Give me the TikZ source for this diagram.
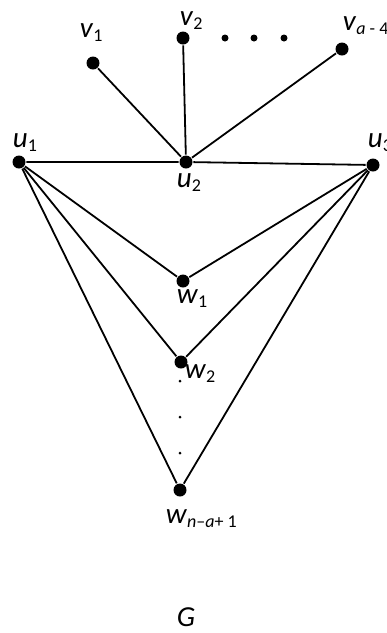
\documentclass[tikz,border=0pt]{standalone}
\usepackage{fontspec}
\setmainfont{Carlito}
\newcommand{\vlab}[2]{\textit{#1}\raisebox{-4pt}{\fontsize{18}{18}\selectfont #2}}
\begin{document}
\begin{tikzpicture}[x=1pt, y=-1pt, line width=1.8pt,
    vtx/.style={circle, fill=black, inner sep=0pt, minimum size=13pt},
    bigdot/.style={circle, fill=black, inner sep=0pt, minimum size=7pt},
    tinydot/.style={circle, fill=black, inner sep=0pt, minimum size=3pt},
    lbl/.style={anchor=base west, inner sep=0pt, font=\fontsize{29}{30}\selectfont}]
    \useasboundingbox (0,0) rectangle (387,633);
    % top vertices
    \node[vtx] (v1) at (93,63) {};
    \node[vtx] (v2) at (183,38) {};
    \node[vtx] (va) at (342,49) {};
    \node[bigdot] (e1) at (225,38) {};
    \node[bigdot] (e2) at (254,38) {};
    \node[bigdot] (e3) at (284,38) {};
    % middle row
    \node[vtx] (u1) at (19,162) {};
    \node[vtx] (u2) at (186,162) {};
    \node[vtx] (u3) at (373,165) {};
    % bottom vertices
    \node[vtx] (w1) at (183,281) {};
    \node[vtx] (w2) at (181,362) {};
    \node[vtx] (wn) at (180,490) {};
    \node[tinydot] (d1) at (180,381) {};
    \node[tinydot] (d2) at (180,417) {};
    \node[tinydot] (d3) at (180,453) {};
    % edges
    \draw (u1) -- (u2) -- (u3);
    \draw (u2) -- (v1);
    \draw (u2) -- (v2);
    \draw (u2) -- (va);
    \foreach \w in {w1,w2,wn} {
      \draw (u1) -- (\w);
      \draw (u3) -- (\w);
    }
    % labels
    \node[lbl] (lv1) at (79,37) {\vlab{v}{1}};
    \node[lbl] (lv2) at (179,25) {\vlab{v}{2}};
    \node[lbl] (lva) at (342,30) {\vlab{v}{\textit{a} - 4}};
    \node[lbl] (lu1) at (12,147) {\vlab{u}{1}};
    \node[lbl] (lu2) at (176,187) {\vlab{u}{2}};
    \node[lbl] (lu3) at (367,147) {\vlab{u}{3}};
    \node[lbl] (lw1) at (176,303) {\vlab{w}{1}};
    \node[lbl] (lw2) at (184,378) {\vlab{w}{2}};
    \node[lbl] (lwn) at (165,523) {\vlab{w}{\textit{n}–\textit{a}+ 1}};
    \node[lbl, text depth=0pt] (lg) at (176,626) {\textit{G}};
  \end{tikzpicture}
\end{document}
